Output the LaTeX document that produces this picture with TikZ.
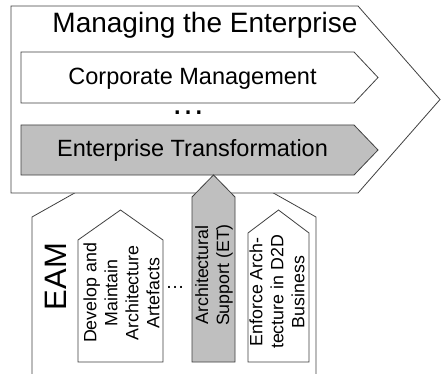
\documentclass[tikz,border=0pt]{standalone}
\usepackage{fontspec}
\setmainfont{Liberation Sans}
\begin{document}
\begin{tikzpicture}[x=1pt,y=-1pt,
  shp/.style={draw=black!75, line width=0.8pt, fill=white, line join=miter},
  gshp/.style={shp, fill=black!25},
  big/.style={inner sep=0pt, font=\fontsize{28}{34}\selectfont},
  mid/.style={inner sep=0pt, font=\fontsize{23.5}{28}\selectfont},
  vtxt/.style={inner sep=0pt, rotate=90, align=center, font=\fontsize{17.8}{21}\selectfont}]
\useasboundingbox (0,0) rectangle (441,374);
% EAM outer shape
\draw[shp] (32,380) -- (32,217) -- (174,137) -- (316,217) -- (316,380);
% Managing the Enterprise
\draw[shp] (11,6) -- (358,6) -- (440,99.5) -- (358,193) -- (11,193) -- cycle;
\draw[shp] (21,52) -- (354,52) -- (378,77.5) -- (354,103) -- (21,103) -- cycle;
\draw[gshp] (21,125) -- (354,125) -- (378,150) -- (354,175) -- (21,175) -- cycle;
% EAM activities
\draw[shp] (78,362) -- (78,240) -- (120.5,210) -- (163,240) -- (163,362) -- cycle;
\draw[gshp] (192,362) -- (192,197) -- (213.5,175) -- (235,197) -- (235,362) -- cycle;
\draw[shp] (248,362) -- (248,233) -- (278.5,210) -- (309,233) -- (309,362) -- cycle;
% texts
\node[big, anchor=base] (mte) at (205,33) {Managing the Enterprise};
\node[mid, anchor=base] (cm) at (192.5,85) {Corporate Management};
\node[inner sep=0pt, font=\fontsize{34}{40}\selectfont] (dotsa) at (188,113) {…};
\node[mid, anchor=base] (et) at (192.5,157) {Enterprise Transformation};
\node[inner sep=0pt, rotate=90, font=\fontsize{31}{36}\selectfont] (eam) at (56,276.5) {EAM};
\node[vtxt] (dev) at (121.5,293) {Develop and\\Maintain\\Architecture\\Artefacts};
\node[inner sep=0pt, font=\fontsize{19}{22}\selectfont] (dotsb) at (175,287) {…};
\node[vtxt] (as) at (214,275) {Architectural\\Support (ET)};
\node[vtxt] (enf) at (277,292) {Enforce Arch-\\tecture in D2D\\Business};
\end{tikzpicture}
\end{document}
